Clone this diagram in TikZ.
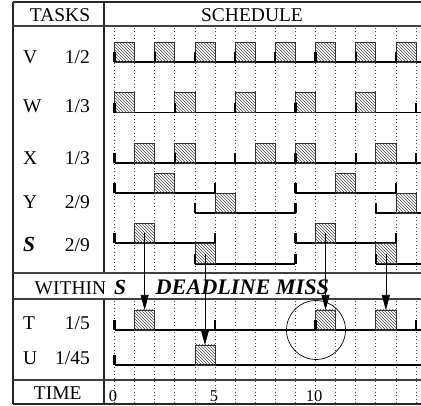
\documentclass[tikz,border=0pt]{standalone}
\usepackage{fontspec}
\setmainfont{Liberation Serif}
\usetikzlibrary{patterns,arrows.meta}
\def\xo{114.5}
\def\ux{20.1}
\newcommand\mybox[3]{\node[jobbox] (#3) at ({\xo+\ux*#1},#2) {};}
\newcommand\mytick[2]{\draw[tickline] ({\xo+\ux*#1},#2) -- ({\xo+\ux*#1},#2-10);}
\newcommand\myseg[3]{\draw[baseline] ({\xo+\ux*#1},#3) -- ({\xo+\ux*#2},#3);}
\begin{document}
\begin{tikzpicture}[x=1pt,y=-1pt,
  frame/.style={line width=1.8pt, black!85},
  sepline/.style={line width=2pt, black!75},
  gridline/.style={line width=0.8pt, dash pattern=on 0.9pt off 2.6pt, black!75},
  baseline/.style={line width=1.6pt, black},
  tickline/.style={line width=2.2pt, black},
  jobbox/.style={draw=black!80, line width=0.8pt, pattern=north west lines, pattern color=black!70,
    minimum width=20.1pt, minimum height=20pt, inner sep=0pt, outer sep=0pt, anchor=south west},
  lbl/.style={font=\fontsize{19.5}{22}\selectfont, inner sep=0pt},
  bilbl/.style={font=\fontsize{21.5}{24}\selectfont\bfseries\itshape, inner sep=0pt},
  misslbl/.style={font=\fontsize{22.2}{24}\selectfont\bfseries\itshape, inner sep=0pt},
  numlbl/.style={font=\fontsize{16.5}{18}\selectfont, inner sep=0pt, anchor=base},
  arr/.style={line width=0.7pt, -{Triangle[length=15pt,width=8pt]}},
  misscircle/.style={draw, circle, minimum size=59pt, inner sep=0pt, line width=0.7pt}
]
\useasboundingbox (0,0) rectangle (421,406);

% dotted time grid
\foreach \t in {0,...,15} {
  \draw[gridline] ({\xo+\ux*\t},28) -- ({\xo+\ux*\t},272);
  \draw[gridline] ({\xo+\ux*\t},301) -- ({\xo+\ux*\t},403);
}

% frame and separators
\draw[frame] (13,2) -- (421,2);
\draw[frame] (13,2) -- (13,404);
\draw[frame] (13,404) -- (421,404);
\draw[frame] (104,2) -- (104,273);
\draw[frame] (104,299.5) -- (104,404);
\draw[sepline] (13,26.5) -- (421,26.5);
\draw[sepline] (13,273) -- (421,273);
\draw[sepline] (13,299.5) -- (421,299.5);
\draw[sepline] (13,380.5) -- (421,380.5);

% headers and labels
\node[lbl, anchor=base] (htasks) at (60,22) {TASKS};
\node[lbl, anchor=base] (hsched) at (252,22) {SCHEDULE};
\node[lbl, anchor=base west] (lv) at (23,64) {V};
\node[lbl, anchor=base east] (rv) at (90,64) {1/2};
\node[lbl, anchor=base west] (lw) at (23,113) {W};
\node[lbl, anchor=base east] (rw) at (90,113) {1/3};
\node[lbl, anchor=base west] (lx) at (23,164.5) {X};
\node[lbl, anchor=base east] (rx) at (90,164.5) {1/3};
\node[lbl, anchor=base west] (ly) at (23,209) {Y};
\node[lbl, anchor=base east] (ry) at (90,209) {2/9};
\node[bilbl, anchor=base west] (ls) at (23,252) {S};
\node[lbl, anchor=base east] (rs) at (90,252) {2/9};
\node[lbl, anchor=base west] (lwithin) at (34.5,295) {WITHIN};
\node[bilbl, anchor=base west] (lwithins) at (114,295) {S};
\node[misslbl, anchor=base west] (lmiss) at (155.5,295) {DEADLINE MISS};
\node[lbl, anchor=base west] (lt) at (23,330) {T};
\node[lbl, anchor=base east] (rt) at (90,330) {1/5};
\node[lbl, anchor=base west] (lu) at (23,365) {U};
\node[lbl, anchor=base east] (ru) at (90,365) {1/45};
\node[lbl, anchor=base] (ltime) at (57.7,400) {TIME};
\node[numlbl] (n0) at (113,401.5) {0};
\node[numlbl] (n5) at (214,401.5) {5};
\node[numlbl] (n10) at (314,401.5) {10};

% baselines
\myseg{0}{15.3}{62.3}
\myseg{0}{15.3}{112.7}
\myseg{0}{15.3}{163.3}
\myseg{0}{5}{193.3}
\myseg{9}{14}{193.3}
\myseg{4}{9}{213.3}
\myseg{13}{15.3}{213.3}
\myseg{0}{5}{243.3}
\myseg{9}{14}{243.3}
\myseg{4}{9}{263.8}
\myseg{13}{15.3}{263.8}
\myseg{0}{15.3}{330}
\myseg{0}{15.3}{365}

% job boxes
\foreach \t in {0,2,...,14} {\mybox{\t}{62.3}{v\t}}
\foreach \t in {0,3,...,12} {\mybox{\t}{112.7}{w\t}}
\foreach \t in {1,3,7,9,13} {\mybox{\t}{163.3}{x\t}}
\foreach \t in {2,11} {\mybox{\t}{193.3}{yu\t}}
\foreach \t in {5,14} {\mybox{\t}{213.3}{yl\t}}
\foreach \t in {1,10} {\mybox{\t}{243.3}{su\t}}
\foreach \t in {4,13} {\mybox{\t}{263.8}{sl\t}}
\foreach \t in {1,10,13} {\mybox{\t}{330}{tt\t}}
\mybox{4}{365}{uu4}

% release / deadline ticks
\foreach \t in {0,2,...,14} {\mytick{\t}{62.3}}
\foreach \t in {0,3,...,15} {\mytick{\t}{112.7}}
\foreach \t in {0,3,...,15} {\mytick{\t}{163.3}}
\foreach \t in {0,5,9,14} {\mytick{\t}{193.3}}
\foreach \t in {4,9,13} {\mytick{\t}{213.3}}
\foreach \t in {0,5,9,14} {\mytick{\t}{243.3}}
\foreach \t in {4,9,13} {\mytick{\t}{263.8}}
\foreach \t in {0,5,10,15} {\mytick{\t}{330}}
\mytick{0}{365}

% arrows from S to its tasks
\draw[arr] (su1.center) -- (tt1.north);
\draw[arr] (sl4.center) -- (uu4.north);
\draw[arr] (su10.center) -- (tt10.north);
\draw[arr] (sl13.center) -- (tt13.north);

% deadline miss circle
\node[misscircle] (miss) at (316,330) {};
\end{tikzpicture}
\end{document}
